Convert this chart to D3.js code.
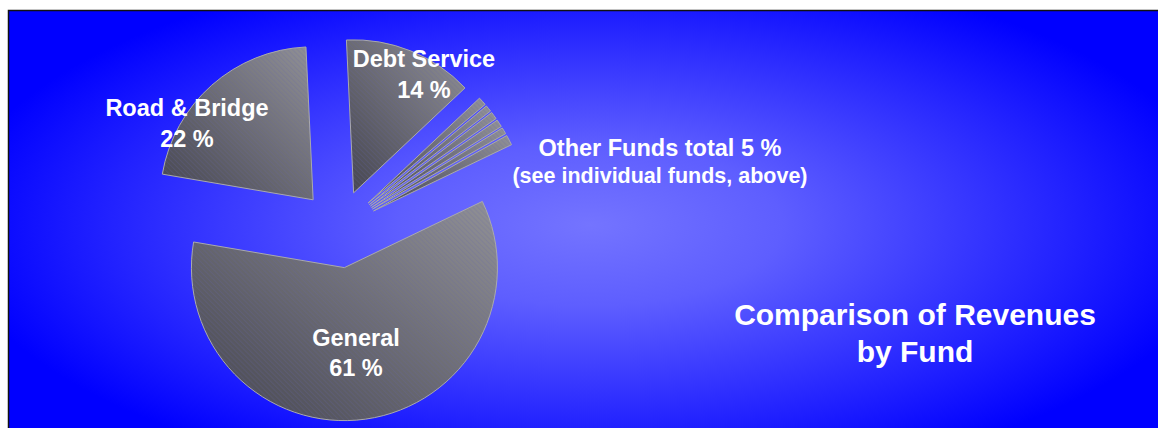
<!DOCTYPE html>
<html>
<head>
<meta charset="utf-8">
<script src="https://cdn.jsdelivr.net/npm/d3@7"></script>
<style>
  html, body { margin: 0; padding: 0; background: #ffffff; }
  svg { display: block; }
  text { font-family: "Liberation Sans", Arial, sans-serif; font-weight: bold; fill: #ffffff; }
</style>
</head>
<body>
<svg id="chart" width="1158" height="428"></svg>
<script>
// Revenue share by fund (percent)
const fundNames = ["Debt Service", "Other 1", "Other 2", "Other 3", "Other 4", "Other 5", "Other 6", "General", "Road & Bridge"];
const fundShares = [14, 0.9, 0.7, 0.8, 0.8, 0.7, 1.1, 61, 22];
const otherFundsTotal = 5;

const W = 1158, H = 428;
const svg = d3.select("#chart");
const defs = svg.append("defs");

// Background: bright centre fading to deep blue
const bg = defs.append("radialGradient")
  .attr("id", "bgGrad")
  .attr("gradientUnits", "userSpaceOnUse")
  .attr("cx", 590).attr("cy", 225).attr("r", 640)
  .attr("gradientTransform", "translate(590,225) scale(1,0.42) translate(-590,-225)");
bg.append("stop").attr("offset", 0).attr("stop-color", "#7474ff");
bg.append("stop").attr("offset", 0.3).attr("stop-color", "#5e5eff");
bg.append("stop").attr("offset", 0.75).attr("stop-color", "#2222ff");
bg.append("stop").attr("offset", 1).attr("stop-color", "#0000ff");

// Slice shading: dark lower-left to light upper-right
const sg = defs.append("linearGradient")
  .attr("id", "sliceGrad")
  .attr("x1", 0).attr("y1", 1).attr("x2", 1).attr("y2", 0);
sg.append("stop").attr("offset", 0).attr("stop-color", "#45454f");
sg.append("stop").attr("offset", 1).attr("stop-color", "#919196");

// Fine diagonal hatch laid over the slices
const hatch = defs.append("pattern")
  .attr("id", "hatch")
  .attr("patternUnits", "userSpaceOnUse")
  .attr("width", 3.5).attr("height", 3.5)
  .attr("patternTransform", "rotate(-45)");
hatch.append("line")
  .attr("x1", 0.6).attr("y1", 0).attr("x2", 0.6).attr("y2", 3.5)
  .attr("stroke", "rgba(100,100,170,0.3)")
  .attr("stroke-width", 0.8);

svg.append("rect")
  .attr("x", 8.5).attr("y", 10.5)
  .attr("width", W).attr("height", H)
  .attr("fill", "url(#bgGrad)")
  .attr("stroke", "#111")
  .attr("stroke-width", 1.5);

// Exploded pie
const cx = 339, cy = 229, radius = 153, explode = 39;
const pie = d3.pie().sort(null)
  .startAngle(-2.7 * Math.PI / 180)
  .endAngle(-2.7 * Math.PI / 180 + 2 * Math.PI);
const arc = d3.arc().innerRadius(0).outerRadius(radius);
const arcs = pie(fundShares);

const g = svg.append("g").attr("transform", `translate(${cx},${cy})`);
const slice = g.selectAll("g.slice").data(arcs).join("g")
  .attr("class", "slice")
  .attr("transform", d => {
    const a = (d.startAngle + d.endAngle) / 2;
    return `translate(${explode * Math.sin(a)},${-explode * Math.cos(a)})`;
  });
slice.append("path")
  .attr("d", arc)
  .attr("fill", "url(#sliceGrad)");
slice.append("path")
  .attr("d", arc)
  .attr("fill", "url(#hatch)")
  .attr("stroke", "#a9a9ae")
  .attr("stroke-width", 1);

// Labels
function label(lines, x, y0, sizes, gap) {
  const t = svg.append("text").attr("text-anchor", "middle");
  let y = y0;
  lines.forEach((s, i) => {
    t.append("tspan").attr("x", x).attr("y", y)
      .style("font-size", sizes[i] + "px").text(s);
    y += gap;
  });
}
const pct = v => `${v} %`;
label([fundNames[8], pct(fundShares[8])], 187, 116, [23.5, 23.5], 30.5);
label([fundNames[0], pct(fundShares[0])], 424, 67, [23.5, 23.5], 31);
label([fundNames[7], pct(fundShares[7])], 356, 345.5, [23.5, 23.5], 30.5);
label([`Other Funds total ${pct(otherFundsTotal)}`, "(see individual funds, above)"], 660, 155.5, [23.5, 21.5], 27.5);
label(["Comparison of Revenues", "by Fund"], 915, 325, [30, 30], 36.5);
</script>
</body>
</html>
